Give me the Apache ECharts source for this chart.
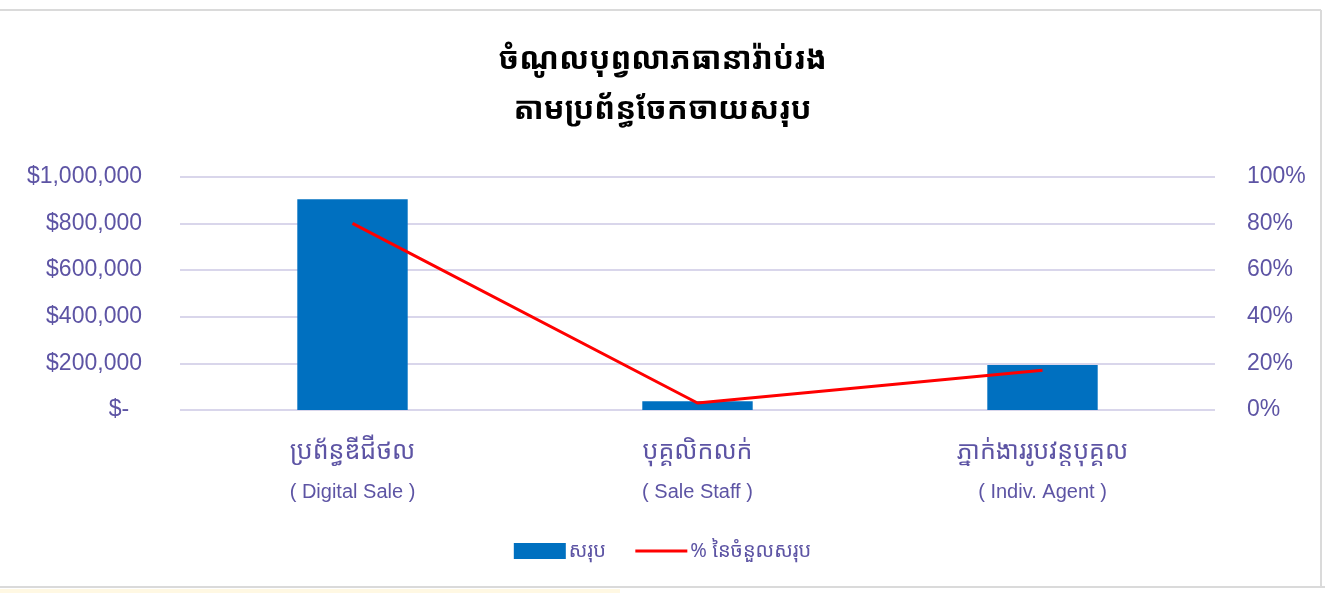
<!DOCTYPE html>
<html>
<head>
<meta charset="utf-8">
<script src="https://cdn.jsdelivr.net/npm/echarts@6/dist/echarts.min.js"></script>
<style>
html,body{margin:0;padding:0;background:#fff;}
#c{width:1325px;height:593px;}
</style>
</head>
<body>
<div id="c"></div>
<script>
const titleLines = ['ចំណូលបុព្វលាភធានារ៉ាប់រង', 'តាមប្រព័ន្ធចែកចាយសរុប'];
const categoriesKm = ['ប្រព័ន្ធឌីជីថល', 'បុគ្គលិកលក់', 'ភ្នាក់ងាររូបវន្តបុគ្គល'];
const categoriesEn = ['( Digital Sale )', '( Sale Staff )', '( Indiv. Agent )'];
const totals = [903000, 38000, 193000];
const shares = [0.80, 0.03, 0.17];
const seriesNames = ['សរុប', '% នៃចំនួលសរុប'];

const purple = '#5D54A4';
const fontKh = '"Noto Sans Khmer","Khmer OS","Liberation Sans",sans-serif';
const fontNum = '"Liberation Sans",Arial,sans-serif';

const categories = categoriesKm.map((k, i) => k + '\n' + categoriesEn[i]);

const chart = echarts.init(document.getElementById('c'));
chart.setOption({
  backgroundColor: '#fff',
  animation: false,
  title: {
    text: titleLines.join('\n'),
    left: 'center',
    top: 30,
    textStyle: {fontSize: 31, color: '#000', fontWeight: 'bold', lineHeight: 50, fontFamily: fontKh}
  },
  legend: {
    top: 536,
    left: 'center',
    itemGap: 28,
    itemWidth: 52,
    itemHeight: 16,
    textStyle: {fontSize: 20, color: purple, fontFamily: fontKh, padding: [0,0,0,-2]},
    data: [
      {name: seriesNames[0], icon: 'rect'},
      {name: seriesNames[1], itemStyle: {opacity: 0}, lineStyle: {color: '#FF0000', width: 3}}
    ]
  },
  grid: {left: 180, right: 110, top: 176.7, bottom: 183},
  xAxis: {
    type: 'category',
    data: categories,
    axisLine: {show: false},
    axisTick: {show: false},
    axisLabel: {
      margin: 22,
      interval: 0,
      formatter: function (v) {
        const p = v.split('\n');
        return '{km|' + p[0] + '}\n{en|' + p[1] + '}';
      },
      rich: {
        km: {fontSize: 25, color: purple, fontFamily: fontKh, lineHeight: 40},
        en: {fontSize: 20, color: purple, fontFamily: '"Liberation Sans Narrow",' + fontNum, lineHeight: 40}
      }
    }
  },
  yAxis: [
    {
      type: 'value',
      min: 0, max: 1000000, interval: 200000,
      axisLine: {show: false},
      axisTick: {show: false},
      splitLine: {lineStyle: {color: '#D9D6EB', width: 2}},
      axisLabel: {
        margin: 38,
        fontSize: 23,
        color: purple,
        fontFamily: fontNum,
        formatter: function (v) {
          if (v === 0) return '$-  ';
          return '$' + v.toString().replace(/\B(?=(\d{3})+(?!\d))/g, ',');
        }
      }
    },
    {
      type: 'value',
      min: 0, max: 1, interval: 0.2,
      axisLine: {show: false},
      axisTick: {show: false},
      splitLine: {show: false},
      axisLabel: {
        margin: 32,
        fontSize: 23,
        color: purple,
        fontFamily: fontNum,
        formatter: function (v) { return Math.round(v * 100) + '%'; }
      }
    }
  ],
  series: [
    {
      name: seriesNames[0],
      type: 'bar',
      data: totals,
      barWidth: '32%',
      itemStyle: {color: '#0070C0'}
    },
    {
      name: seriesNames[1],
      type: 'line',
      yAxisIndex: 1,
      data: shares,
      symbol: 'none',
      lineStyle: {color: '#FF0000', width: 3},
      itemStyle: {color: '#FF0000'}
    }
  ],
  graphic: [
    {type: 'line', shape: {x1: 0, y1: 10, x2: 1321, y2: 10}, style: {stroke: '#DADADA', lineWidth: 2}},
    {type: 'line', shape: {x1: 1321, y1: 10, x2: 1321, y2: 587}, style: {stroke: '#DADADA', lineWidth: 2}},
    {type: 'line', shape: {x1: 0, y1: 587, x2: 1325, y2: 587}, style: {stroke: '#DADADA', lineWidth: 2}},
    {type: 'rect', shape: {x: 0, y: 589, width: 620, height: 4}, style: {fill: '#FFF8E3'}}
  ]
});
</script>
</body>
</html>
